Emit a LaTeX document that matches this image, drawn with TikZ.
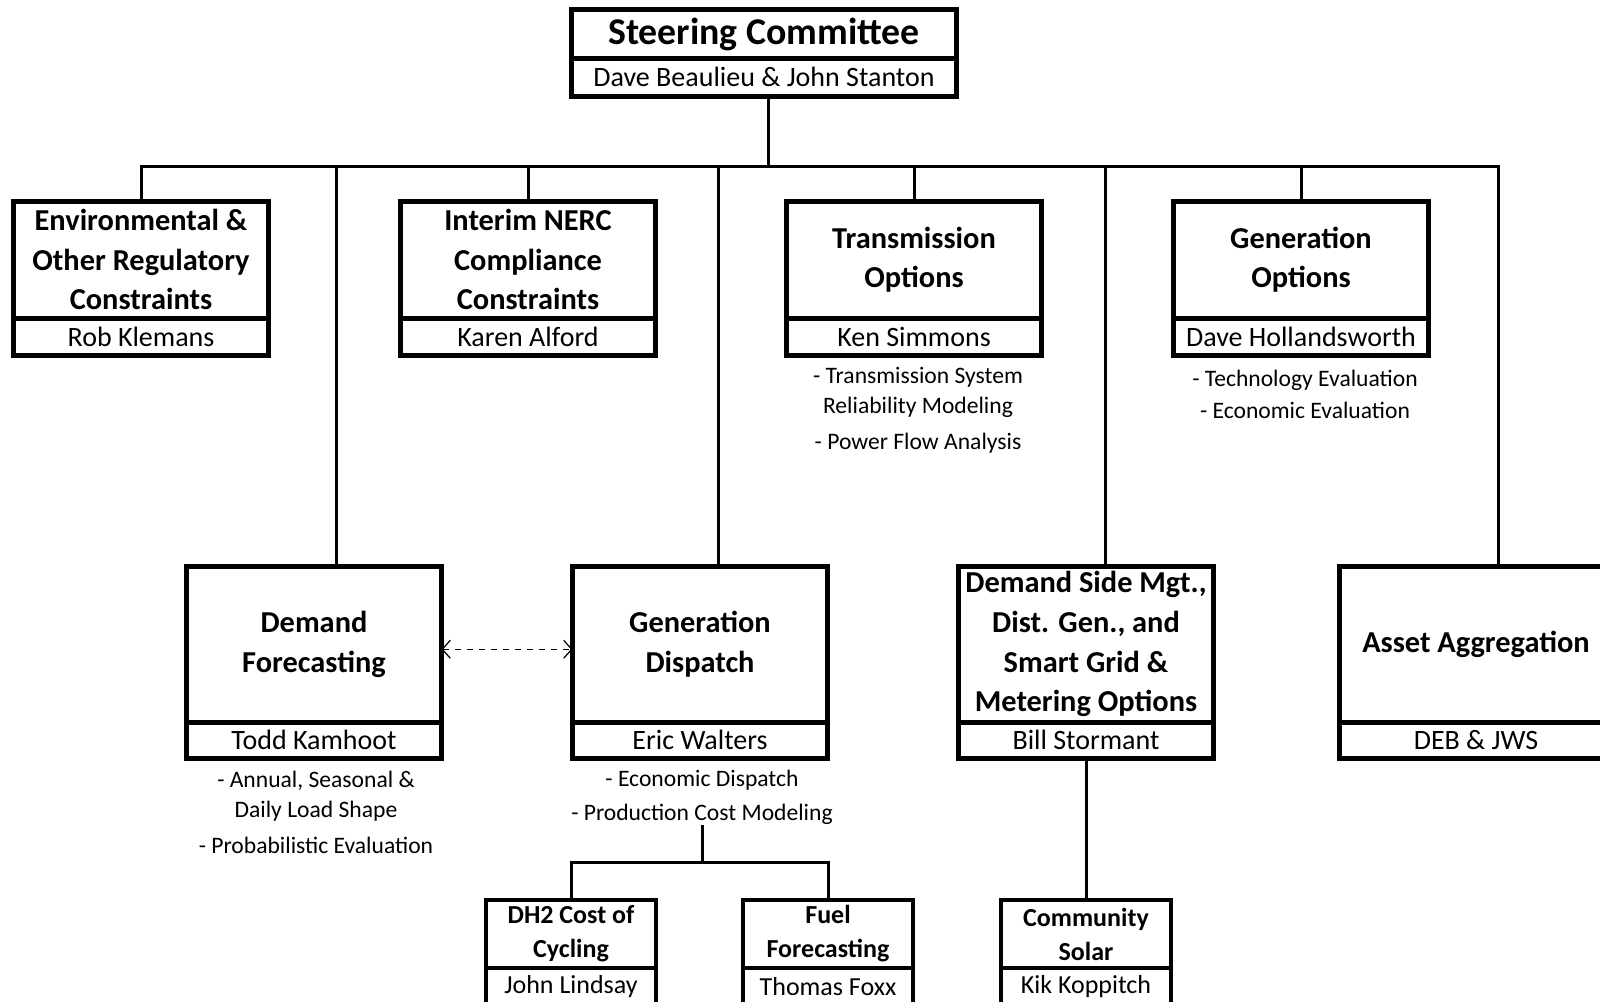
\documentclass[tikz,border=0pt]{standalone}
\usepackage{fontspec}
\setmainfont{Carlito}
\usetikzlibrary{arrows.meta}
\begin{document}
\begin{tikzpicture}[x=0.5pt,y=-0.5pt,
    head/.style={draw,line width=2.5pt,anchor=north,align=center,inner sep=0pt,outer sep=0pt,minimum width=127.5pt,font=\bfseries\fontsize{15.2}{19.8}\selectfont},
    who/.style={draw,line width=2.5pt,anchor=north,inner sep=0pt,outer sep=0pt,minimum width=127.5pt,minimum height=18.25pt,font=\fontsize{14}{16}\selectfont},
    small/.style={draw,line width=2pt,anchor=north,align=center,inner sep=0pt,outer sep=0pt,minimum width=85pt,minimum height=34pt,font=\bfseries\fontsize{13}{17}\selectfont},
    smallwho/.style={draw,line width=2pt,anchor=north,inner sep=0pt,outer sep=0pt,minimum width=85pt,minimum height=18.5pt,font=\fontsize{13}{15}\selectfont},
    notes/.style={anchor=north,align=center,inner sep=0pt,font=\fontsize{11.8}{15}\selectfont},
    link/.style={line width=1.5pt}]
    \useasboundingbox (0,0) rectangle (1600,1001);
    \clip (0,0) rectangle (1600,1001);
    \node[head,minimum width=192.5pt,minimum height=24.5pt,font=\bfseries\fontsize{18.9}{22}\selectfont] (steer) at (764,9.5) {Steering Committee};
    \node[who,minimum width=192.5pt,minimum height=18.75pt] (steername) at (steer.south) {Dave Beaulieu \& John Stanton};
    \node[head,minimum height=58.25pt] (env) at (141,201.5) {Environmental \&\\Other Regulatory\\Constraints};
    \node[who,minimum height=18.75pt] (envname) at (env.south) {Rob Klemans};
    \node[head,minimum height=58.25pt] (nerc) at (528,201.5) {Interim NERC\\Compliance\\Constraints};
    \node[who,minimum height=18.75pt] (nercname) at (nerc.south) {Karen Alford};
    \node[head,minimum height=58.25pt] (trans) at (914,201.5) {Transmission\\Options};
    \node[who,minimum height=18.75pt] (transname) at (trans.south) {Ken Simmons};
    \node[head,minimum height=58.25pt] (genopt) at (1301,201.5) {Generation\\Options};
    \node[who,minimum height=18.75pt] (genoptname) at (genopt.south) {Dave Hollandsworth};
    \node[notes] (transnotes) at (918,367) {- Transmission System\\Reliability Modeling\\[3pt]- Power Flow Analysis};
    \node[notes] (genoptnotes) at (1305,370) {- Technology Evaluation\\[1pt]- Economic Evaluation};
    \node[head,minimum height=77.75pt] (df) at (314,566.5) {Demand\\Forecasting};
    \node[who,minimum height=18.25pt] (dfname) at (df.south) {Todd Kamhoot};
    \node[head,minimum height=77.75pt] (gd) at (700,566.5) {Generation\\Dispatch};
    \node[who,minimum height=18.25pt] (gdname) at (gd.south) {Eric Walters};
    \node[head,minimum height=77.75pt] (dsm) at (1086,566.5) {Demand Side Mgt.,\\Dist. Gen., and\\Smart Grid \&\\Metering Options};
    \node[who,minimum height=18.25pt] (dsmname) at (dsm.south) {Bill Stormant};
    \node[head,minimum height=77.75pt,minimum width=137pt] (asset) at (1476,566.5) {Asset Aggregation};
    \node[who,minimum height=18.25pt,minimum width=137pt] (assetname) at (asset.south) {DEB \& JWS};
    \node[notes] (dfnotes) at (316,771) {- Annual, Seasonal \&\\Daily Load Shape\\[3pt]- Probabilistic Evaluation};
    \node[notes] (gdnotes) at (702,770) {- Economic Dispatch\\[2pt]- Production Cost Modeling};
    \node[small] (dh2) at (571,900) {DH2 Cost of\\Cycling};
    \node[smallwho] (dh2name) at (dh2.south) {John Lindsay};
    \node[small] (fuel) at (828,900) {Fuel\\Forecasting};
    \node[smallwho] (fuelname) at (fuel.south) {Thomas Foxx};
    \node[small] (solar) at (1086,900) {Community\\Solar};
    \node[smallwho] (solarname) at (solar.south) {Kik Koppitch};
    \coordinate (hub) at (768,166);
    \coordinate (busend) at (1498,166);
    \coordinate (split) at (700,862);
    \draw[link] (hub |- steername.south) -- (hub);
    \draw[link] (env.north) |- (busend) -- (busend |- asset.north);
    \foreach \n in {nerc,trans,genopt}
        \draw[link] (\n.north) -- (\n.north |- hub);
    \foreach \x/\n in {336/df,718/gd,1105/dsm}
        \draw[link] (\x,166) -- (\x,0 |- \n.north);
    \draw[dashed,line width=0.6pt,{Straight Barb[length=4pt,width=9pt]}-{Straight Barb[length=4pt,width=9pt]}] ([yshift=-2.5pt]df.east) -- ([yshift=-2.5pt]gd.west);
    \draw[link] (gdnotes.south) -- (gdnotes.south |- split);
    \draw[link] (dh2.north) |- (split) -| (fuel.north);
    \draw[link] (dsmname.south) -- (solar.north);
\end{tikzpicture}
\end{document}
